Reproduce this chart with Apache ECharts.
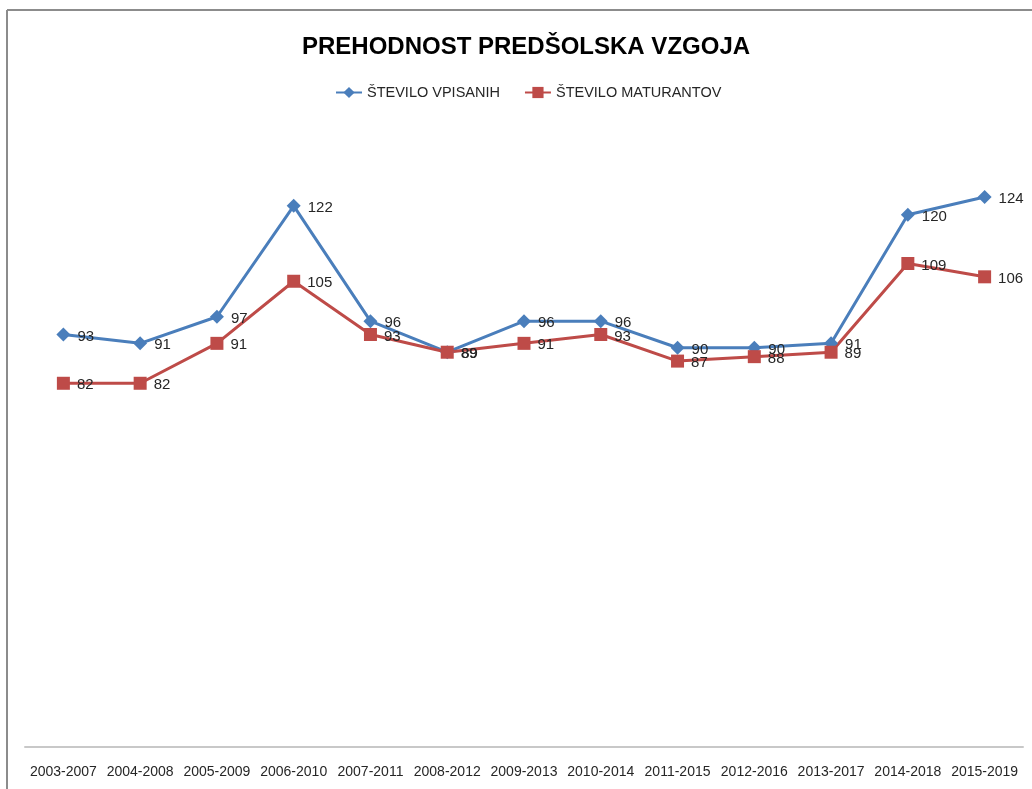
<!DOCTYPE html>
<html>
<head>
<meta charset="utf-8">
<title>Prehodnost predšolska vzgoja</title>
<script src="https://cdn.jsdelivr.net/npm/echarts@6/dist/echarts.min.js"></script>
<style>
	*{
		margin: 0;
		padding: 0;
	}
	#chart{
		width: 1032px;
		height: 789px;
		background: #fff;
	}
</style>
</head>
<body>
<div id="chart"></div>
<script>
// podatki
var leta = ['2003-2007', '2004-2008', '2005-2009', '2006-2010', '2007-2011', '2008-2012', '2009-2013',
	'2010-2014', '2011-2015', '2012-2016', '2013-2017', '2014-2018', '2015-2019'];
var vpisani = [93, 91, 97, 122, 96, 89, 96, 96, 90, 90, 91, 120, 124];
var maturanti = [82, 82, 91, 105, 93, 89, 91, 93, 87, 88, 89, 109, 106];

var myChart = echarts.init(document.getElementById('chart'));

var labelStyle = {
	show: true,
	position: 'right',
	distance: 7,
	offset: [0, 2],
	color: '#262626',
	fontFamily: 'Liberation Sans',
	fontSize: 15
};

var option = {
	backgroundColor: '#fff',
	animation: false,
	title: {
		text: 'PREHODNOST PREDŠOLSKA VZGOJA',
		left: 297,
		top: 30,
		textStyle: {
			fontFamily: 'Liberation Sans',
			fontWeight: 'bold',
			fontSize: 24,
			color: '#000'
		}
	},
	legend: {
		top: 80,
		left: 330,
		itemGap: 24,
		itemWidth: 26,
		itemHeight: 14,
		textStyle: {
			fontFamily: 'Liberation Sans',
			fontSize: 14.5,
			color: '#262626'
		},
		data: ['ŠTEVILO VPISANIH', 'ŠTEVILO MATURANTOV']
	},
	grid: {
		left: 25,
		right: 9,
		top: 126,
		bottom: 42
	},
	xAxis: {
		type: 'category',
		data: leta,
		boundaryGap: true,
		axisLine: {lineStyle: {color: '#c8c8c8', width: 2}},
		axisTick: {show: false},
		axisLabel: {
			interval: 0,
			margin: 18,
			color: '#262626',
			fontFamily: 'Liberation Sans',
			fontSize: 14
		}
	},
	yAxis: {
		type: 'value',
		min: 0,
		max: 140,
		interval: 20,
		show: false,
		splitLine: {show: false}
	},
	graphic: [
		{type: 'line', shape: {x1: 7, y1: 10, x2: 1032, y2: 10}, style: {stroke: '#8c8c8c', lineWidth: 2}},
		{type: 'line', shape: {x1: 7, y1: 10, x2: 7, y2: 789}, style: {stroke: '#8c8c8c', lineWidth: 2}}
	],
	series: [
		{
			name: 'ŠTEVILO VPISANIH',
			type: 'line',
			data: vpisani,
			symbol: 'diamond',
			symbolSize: 14,
			lineStyle: {color: '#4a7ebb', width: 3},
			itemStyle: {color: '#4a7ebb'},
			label: labelStyle
		},
		{
			name: 'ŠTEVILO MATURANTOV',
			type: 'line',
			data: maturanti,
			symbol: 'rect',
			symbolSize: 13,
			lineStyle: {color: '#be4b48', width: 3},
			itemStyle: {color: '#be4b48'},
			label: labelStyle
		}
	]
};

myChart.setOption(option);
</script>
</body>
</html>
